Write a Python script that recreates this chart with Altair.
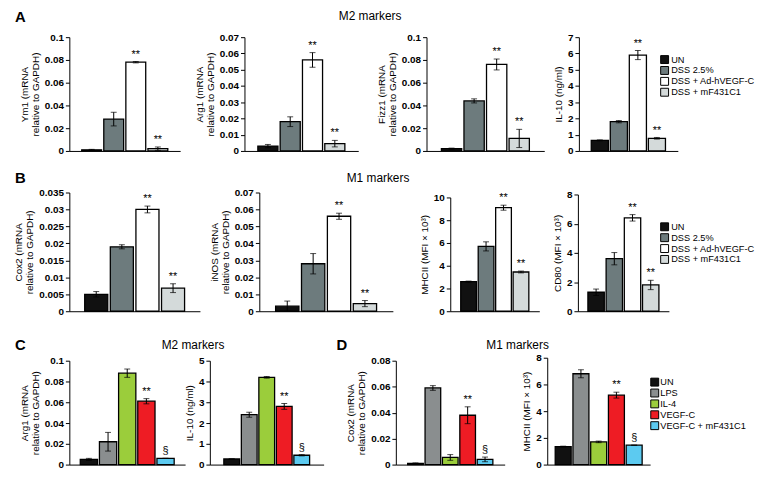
import altair as alt
import pandas as pd

FONT = "Liberation Sans"

# ---------------- categories & colours ----------------
groups_ab = ["UN", "DSS 2.5%", "DSS + Ad-hVEGF-C", "DSS + mF431C1"]
colors_ab = ["#111111", "#6d7b7d", "#ffffff", "#d4dada"]
groups_cd = ["UN", "LPS", "IL-4", "VEGF-C", "VEGF-C + mF431C1"]
colors_cd = ["#111111", "#8a8e8f", "#9bcd3b", "#ee1c24", "#5ccaf0"]

# ---------------- Row A : M2 markers ----------------
ym1_vals = [0.001, 0.028, 0.078, 0.002]
ym1_errs = [0.0004, 0.006, 0.0006, 0.0015]
ym1_marks = ["", "", "**", "**"]

arg1a_vals = [0.003, 0.018, 0.056, 0.0045]
arg1a_errs = [0.001, 0.003, 0.0045, 0.002]
arg1a_marks = ["", "", "**", "**"]

fizz1_vals = [0.002, 0.044, 0.076, 0.011]
fizz1_errs = [0.0005, 0.0018, 0.0048, 0.008]
fizz1_marks = ["", "", "**", "**"]

il10a_vals = [0.65, 1.8, 5.9, 0.78]
il10a_errs = [0.03, 0.07, 0.28, 0.05]
il10a_marks = ["", "", "**", "**"]

# ---------------- Row B : M1 markers ----------------
cox2b_vals = [0.005, 0.019, 0.030, 0.0068]
cox2b_errs = [0.0008, 0.0006, 0.001, 0.0013]
cox2b_marks = ["", "", "**", "**"]

inos_vals = [0.003, 0.028, 0.056, 0.0045]
inos_errs = [0.003, 0.006, 0.0018, 0.0018]
inos_marks = ["", "", "**", "**"]

mhcb_vals = [2.6, 5.7, 9.1, 3.45]
mhcb_errs = [0.05, 0.4, 0.22, 0.08]
mhcb_marks = ["", "", "**", "**"]

cd80_vals = [1.3, 3.6, 6.4, 1.8]
cd80_errs = [0.22, 0.42, 0.22, 0.32]
cd80_marks = ["", "", "**", "**"]

# ---------------- Row C : M2 markers ----------------
arg1c_vals = [0.005, 0.022, 0.088, 0.061, 0.006]
arg1c_errs = [0.001, 0.009, 0.004, 0.0025, 0.0]
arg1c_marks = ["", "", "", "**", "§"]

il10c_vals = [0.27, 2.4, 4.2, 2.8, 0.45]
il10c_errs = [0.0, 0.12, 0.04, 0.14, 0.03]
il10c_marks = ["", "", "", "**", "§"]

# ---------------- Row D : M1 markers ----------------
cox2d_vals = [0.001, 0.059, 0.0055, 0.038, 0.004]
cox2d_errs = [0.0003, 0.0018, 0.0022, 0.0065, 0.0018]
cox2d_marks = ["", "", "", "**", "§"]

mhcd_vals = [1.35, 6.8, 1.7, 5.2, 1.45]
mhcd_errs = [0.03, 0.3, 0.06, 0.22, 0.0]
mhcd_marks = ["", "", "", "**", "§"]

# y-axis: (max, tick step)
ym1_axis = (0.1, 0.02)
arg1a_axis = (0.07, 0.01)
fizz1_axis = (0.1, 0.02)
il10a_axis = (7, 1)
cox2b_axis = (0.035, 0.005)
inos_axis = (0.07, 0.01)
mhcb_axis = (10, 2)
cd80_axis = (8, 2)
arg1c_axis = (0.1, 0.02)
il10c_axis = (5, 1)
cox2d_axis = (0.08, 0.02)
mhcd_axis = (8, 2)

# texts
letters = ["A", "B", "C", "D"]
section_titles = ["M2 markers", "M1 markers", "M2 markers", "M1 markers"]


def make_ticks(ymax, step):
    n = int(round(ymax / step))
    return [round(i * step, 6) for i in range(n + 1)]


def note(text, x, y, size, weight="normal", align="center"):
    return alt.Chart(pd.DataFrame({"t": [text]})).mark_text(
        align=align, baseline="middle", fontSize=size, fontWeight=weight,
        font=FONT, color="black"
    ).encode(x=alt.value(x), y=alt.value(y), text="t:N")


def panel(cats, colors, vals, errs, marks, axis_def, title, width, row_h, h, po,
          legend=None, notes=()):
    ymax, step = axis_def
    df = pd.DataFrame({
        "cat": cats,
        "val": vals,
        "lo": [v - e for v, e in zip(vals, errs)],
        "hi": [v + e for v, e in zip(vals, errs)],
        "mark": marks,
    })
    x = alt.X("cat:N", sort=cats,
              scale=alt.Scale(domain=cats, paddingInner=0.1, paddingOuter=po),
              axis=alt.Axis(title=None, labels=False, ticks=False, grid=False,
                            domainColor="black", domainWidth=1))
    yaxis = alt.Axis(values=make_ticks(ymax, step), format="~f", title=title,
                     grid=False, domainColor="black", domainWidth=1,
                     tickColor="black", tickSize=4, tickWidth=1,
                     labelFontSize=10, labelFontWeight="bold", labelColor="black",
                     labelPadding=2, labelFont=FONT,
                     titleFontSize=10, titleFontWeight="normal", titleColor="black",
                     titlePadding=4, titleLineHeight=11, titleFont=FONT)
    yscale = alt.Scale(domain=[0, ymax], nice=False, zero=True,
                       range=[row_h, row_h - h])
    base = alt.Chart(df)
    bars = base.mark_bar(stroke="black", strokeWidth=1.3).encode(
        x=x,
        y=alt.Y("val:Q", scale=yscale, axis=yaxis),
        color=alt.Color("cat:N", scale=alt.Scale(domain=cats, range=colors),
                        legend=legend),
    )
    rule = base.mark_rule(color="black", strokeWidth=1).encode(
        x=x, y=alt.Y("lo:Q", scale=yscale, axis=yaxis), y2="hi:Q")
    tick_hi = base.mark_tick(color="black", thickness=1, size=6,
                             orient="horizontal").encode(
        x=x, y=alt.Y("hi:Q", scale=yscale, axis=yaxis))
    tick_lo = base.mark_tick(color="black", thickness=1, size=6,
                             orient="horizontal").encode(
        x=x, y=alt.Y("lo:Q", scale=yscale, axis=yaxis))
    stars = base.transform_filter("datum.mark != ''").mark_text(
        baseline="alphabetic", dy=-4, fontSize=11, font=FONT, color="black"
    ).encode(x=x, y=alt.Y("hi:Q", scale=yscale, axis=yaxis), text="mark:N")
    layers = [bars, rule, tick_hi, tick_lo, stars] + list(notes)
    return alt.layer(*layers).properties(width=width, height=row_h)


def spacer(width, height):
    return alt.Chart(pd.DataFrame({"s": [0]})).mark_point(opacity=0, size=1).encode(
        x=alt.value(0), y=alt.value(0)).properties(width=width, height=height)


def legend_at(x, y, offset):
    return alt.Legend(orient="none", legendX=x, legendY=y, title=None,
                      symbolType="square", symbolSize=64,
                      symbolStrokeColor="black", symbolStrokeWidth=1,
                      labelFontSize=9.3, labelFont=FONT, labelColor="black",
                      labelOffset=offset, rowPadding=-2, padding=0)


def row(cells):
    return alt.hconcat(*cells, spacing=0, bounds="flush").resolve_scale(
        color="independent")


mrna = "relative to GAPDH)"
HA, HB, HC = 115, 120, 108

# ---------- Row A ----------
pA1 = panel(groups_ab, colors_ab, ym1_vals, ym1_errs, ym1_marks, ym1_axis,
            ["Ym1 (mRNA", mrna], 112, HA, 115, 0.56,
            notes=[note(letters[0], -55, -20, 15, "bold", "left")])
pA2 = panel(groups_ab, colors_ab, arg1a_vals, arg1a_errs, arg1a_marks, arg1a_axis,
            ["Arg1 (mRNA", mrna], 115, HA, 115, 0.6,
            notes=[note(section_titles[0], 127, -21, 12)])
pA3 = panel(groups_ab, colors_ab, fizz1_vals, fizz1_errs, fizz1_marks, fizz1_axis,
            ["Fizz1 (mRNA", mrna], 119, HA, 115, 0.66)
pA4 = panel(groups_ab, colors_ab, il10a_vals, il10a_errs, il10a_marks, il10a_axis,
            "IL-10 (ng/ml)", 100, HA, 115, 0.65, legend=legend_at(82, 18, 2))
rowA = row([pA1, spacer(65, 10), pA2, spacer(69, 10), pA3, spacer(35, 10), pA4])

# ---------- Row B ----------
pB1 = panel(groups_ab, colors_ab, cox2b_vals, cox2b_errs, cox2b_marks, cox2b_axis,
            ["Cox2 (mRNA", mrna], 132, HB, 120, 0.6,
            notes=[note(letters[1], -55, -15, 15, "bold", "left")])
pB2 = panel(groups_ab, colors_ab, inos_vals, inos_errs, inos_marks, inos_axis,
            ["iNOS (mRNA", mrna], 135, HB, 120, 0.63,
            notes=[note(section_titles[1], 120, -15, 12)])
pB3 = panel(groups_ab, colors_ab, mhcb_vals, mhcb_errs, mhcb_marks, mhcb_axis,
            "MHCII (MFI × 10³)", 90, HB, 115, 0.6)
pB4 = panel(groups_ab, colors_ab, cd80_vals, cd80_errs, cd80_marks, cd80_axis,
            "CD80 (MFI × 10³)", 92, HB, 118, 0.55, legend=legend_at(83, 30, 2))
rowB = row([pB1, spacer(60, 10), pB2, spacer(58, 10), pB3, spacer(39, 10), pB4])

# ---------- Row C / D ----------
pC1 = panel(groups_cd, colors_cd, arg1c_vals, arg1c_errs, arg1c_marks, arg1c_axis,
            ["Arg1 (mRNA", mrna], 117, HC, 105, 0.57,
            notes=[note(letters[2], -55, -13, 15, "bold", "left"),
                   note(section_titles[2], 125, -13, 12)])
pC2 = panel(groups_cd, colors_cd, il10c_vals, il10c_errs, il10c_marks, il10c_axis,
            "IL-10 (ng/ml)", 115, HC, 105, 0.8)
pD1 = panel(groups_cd, colors_cd, cox2d_vals, cox2d_errs, cox2d_marks, cox2d_axis,
            ["Cox2 (mRNA", mrna], 110, HC, 105, 0.68,
            notes=[note(letters[3], -60, -13, 15, "bold", "left"),
                   note(section_titles[3], 123, -13, 12)])
pD2 = panel(groups_cd, colors_cd, mhcd_vals, mhcd_errs, mhcd_marks, mhcd_axis,
            "MHCII (MFI × 10³)", 104, HC, 108, 0.45, legend=legend_at(104, 20, 1))
rowC = row([pC1, spacer(25, 10), pC2, spacer(73, 10), pD1, spacer(43, 10), pD2])

top_rows = alt.vconcat(rowA, rowB, spacing=15).resolve_scale(color="independent")
chart = alt.vconcat(top_rows, rowC, spacing=22).resolve_scale(
    color="independent").properties(
    padding={"left": 5, "top": 0, "right": 0, "bottom": 0},
    background="white"
).configure_view(stroke=None)

chart.save("out.html", embed_options={"renderer": "svg", "actions": False})
